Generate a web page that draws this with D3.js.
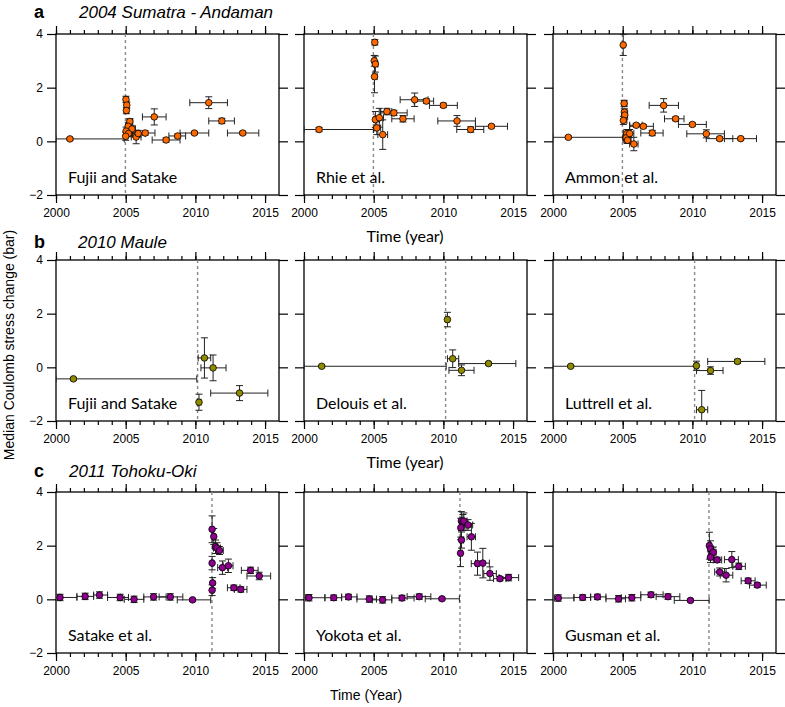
<!DOCTYPE html>
<html>
<head>
<meta charset="utf-8">
<script src="https://cdn.jsdelivr.net/npm/d3@7"></script>
<style>
  body { margin: 0; background: #fff; }
  text { font-family: "Liberation Sans", Arial, sans-serif; }
  .ref { font-family: Lato, "Open Sans", sans-serif; font-size: 16px; }
  .axis .domain { display: none; }
  .axis line { stroke: #000; stroke-width: 1.2; }
  .axis text { font-size: 12px; fill: #000; }
</style>
</head>
<body>
<div class="chart"></div>
<script>
// tick values
const majorYears = [2000, 2005, 2010, 2015];
const minorYears = d3.range(2000, 2016);
const stressTicks = [-2, 0, 2, 4];

// main shock times
const mainShocks = [2004.98, 2010.16, 2011.19];

// each row: [time, stress, timeLo, timeHi, stressErr]
const sumatraFujii = [
  [2001.0, 0.09, 2000.0, 2004.9, 0.05],
  [2005.02, 1.56, 2004.95, 2005.15, 0.12],
  [2005.08, 1.35, 2004.98, 2005.2, 0.12],
  [2005.05, 1.15, 2004.95, 2005.2, 0.12],
  [2005.3, 0.74, 2005.1, 2005.5, 0.1],
  [2005.18, 0.56, 2005.0, 2005.4, 0.15],
  [2005.45, 0.46, 2005.2, 2005.7, 0.12],
  [2005.03, 0.38, 2004.95, 2005.2, 0.15],
  [2005.2, 0.29, 2005.0, 2005.45, 0.12],
  [2005.0, 0.19, 2004.9, 2005.15, 0.15],
  [2005.75, 0.16, 2005.4, 2006.1, 0.25],
  [2005.9, 0.29, 2005.5, 2006.4, 0.12],
  [2006.4, 0.31, 2005.5, 2007.1, 0.08],
  [2007.05, 0.91, 2006.2, 2007.9, 0.3],
  [2007.9, 0.05, 2006.9, 2008.9, 0.08],
  [2008.73, 0.2, 2008.1, 2009.3, 0.07],
  [2009.93, 0.31, 2008.9, 2010.96, 0.06],
  [2010.96, 1.44, 2009.6, 2012.3, 0.22],
  [2011.9, 0.76, 2010.96, 2012.8, 0.1],
  [2013.4, 0.31, 2012.3, 2014.55, 0.06]
];

const sumatraRhie = [
  [2001.08, 0.44, 2000.0, 2004.99, 0.08],
  [2005.08, 3.69, 2005.0, 2005.15, 0.1],
  [2005.04, 3.0, 2004.95, 2005.2, 0.2],
  [2005.12, 2.88, 2005.0, 2005.3, 0.3],
  [2005.06, 2.41, 2004.95, 2005.25, 0.6],
  [2005.12, 0.81, 2005.0, 2005.4, 0.3],
  [2005.22, 0.5, 2005.05, 2005.5, 0.25],
  [2005.4, 0.88, 2005.1, 2005.7, 0.35],
  [2005.65, 0.25, 2005.3, 2006.0, 0.55],
  [2005.95, 1.11, 2005.5, 2006.3, 0.12],
  [2006.45, 1.06, 2005.5, 2007.4, 0.1],
  [2007.1, 0.84, 2006.3, 2007.9, 0.12],
  [2007.94, 1.55, 2006.9, 2008.9, 0.25],
  [2008.78, 1.5, 2007.9, 2009.3, 0.08],
  [2010.0, 1.34, 2009.0, 2011.0, 0.08],
  [2010.98, 0.76, 2009.6, 2012.3, 0.2],
  [2011.96, 0.44, 2010.96, 2012.9, 0.1],
  [2013.45, 0.56, 2012.3, 2014.6, 0.06]
];

const sumatraAmmon = [
  [2001.1, 0.15, 2000.0, 2005.06, 0.05],
  [2005.04, 3.59, 2004.95, 2005.15, 0.39],
  [2005.1, 1.41, 2004.95, 2005.3, 0.12],
  [2005.12, 1.09, 2004.98, 2005.3, 0.12],
  [2005.15, 0.98, 2004.98, 2005.35, 0.15],
  [2005.05, 0.78, 2004.95, 2005.3, 0.15],
  [2005.3, 0.29, 2005.05, 2005.6, 0.15],
  [2005.25, 0.13, 2005.0, 2005.5, 0.15],
  [2005.35, 0.04, 2005.1, 2005.6, 0.12],
  [2005.5, 0.29, 2005.2, 2005.8, 0.15],
  [2005.8, -0.1, 2005.5, 2006.1, 0.25],
  [2005.97, 0.6, 2005.5, 2006.4, 0.06],
  [2006.48, 0.56, 2005.5, 2007.2, 0.06],
  [2007.12, 0.31, 2006.3, 2007.9, 0.1],
  [2007.94, 1.34, 2006.9, 2009.0, 0.25],
  [2008.8, 0.84, 2008.0, 2009.4, 0.07],
  [2010.0, 0.63, 2009.0, 2011.0, 0.06],
  [2011.0, 0.28, 2009.6, 2012.3, 0.15],
  [2011.96, 0.1, 2011.0, 2012.9, 0.06],
  [2013.47, 0.1, 2012.3, 2014.6, 0.05]
];

const mauleFujii = [
  [2001.25, -0.43, 2000.0, 2010.1, 0.05],
  [2010.26, -1.3, 2010.15, 2010.4, 0.3],
  [2010.65, 0.35, 2010.2, 2011.1, 0.75],
  [2011.27, -0.02, 2010.4, 2012.2, 0.48],
  [2013.17, -0.96, 2011.1, 2015.2, 0.28]
];

const mauleDelouis = [
  [2001.27, 0.04, 2000.0, 2010.2, 0.03],
  [2010.29, 1.78, 2010.2, 2010.4, 0.27],
  [2010.67, 0.32, 2010.3, 2011.1, 0.33],
  [2011.3, -0.11, 2010.4, 2012.2, 0.2],
  [2013.24, 0.14, 2011.1, 2015.2, 0.05]
];

const mauleLuttrell = [
  [2001.27, 0.04, 2000.0, 2010.3, 0.03],
  [2010.29, 0.06, 2010.2, 2010.4, 0.17],
  [2011.3, -0.12, 2010.3, 2012.2, 0.14],
  [2013.24, 0.22, 2011.1, 2015.2, 0.08],
  [2010.67, -1.58, 2010.3, 2011.1, 0.72]
];

const tohokuSatake = [
  [2000.29, 0.07, 2000.1, 2001.5, 0.12],
  [2002.09, 0.11, 2001.5, 2002.7, 0.12],
  [2003.12, 0.16, 2002.7, 2003.7, 0.12],
  [2004.6, 0.07, 2003.7, 2005.2, 0.12],
  [2005.6, 0.0, 2004.9, 2006.3, 0.12],
  [2007.0, 0.09, 2006.3, 2007.9, 0.12],
  [2008.2, 0.09, 2007.4, 2009.1, 0.12],
  [2009.8, -0.02, 2008.7, 2011.1, 0.05],
  [2011.2, 2.61, 2011.15, 2011.3, 0.5],
  [2011.32, 2.34, 2011.2, 2011.45, 0.3],
  [2011.45, 1.96, 2011.25, 2011.6, 0.25],
  [2011.55, 1.91, 2011.3, 2011.8, 0.2],
  [2011.73, 1.82, 2011.45, 2012.0, 0.15],
  [2011.2, 1.35, 2011.15, 2011.3, 0.25],
  [2011.94, 1.18, 2011.6, 2012.3, 0.25],
  [2012.37, 1.25, 2012.0, 2012.7, 0.25],
  [2011.24, 0.61, 2011.15, 2011.3, 0.2],
  [2011.2, 0.34, 2011.15, 2011.3, 0.2],
  [2012.76, 0.43, 2012.3, 2013.2, 0.1],
  [2013.26, 0.37, 2012.8, 2013.7, 0.1],
  [2013.96, 1.08, 2013.3, 2014.5, 0.12],
  [2014.58, 0.87, 2013.7, 2015.4, 0.14]
];

const tohokuYokota = [
  [2000.36, 0.06, 2000.1, 2001.5, 0.12],
  [2002.13, 0.06, 2001.5, 2002.7, 0.1],
  [2003.19, 0.09, 2002.7, 2003.8, 0.1],
  [2004.68, 0.01, 2003.8, 2005.2, 0.12],
  [2005.64, -0.02, 2004.9, 2006.3, 0.12],
  [2007.03, 0.05, 2006.3, 2007.9, 0.1],
  [2008.27, 0.1, 2007.4, 2009.1, 0.1],
  [2009.9, 0.02, 2008.7, 2011.15, 0.05],
  [2011.29, 2.92, 2011.2, 2011.45, 0.35],
  [2011.4, 2.86, 2011.25, 2011.6, 0.3],
  [2011.47, 2.92, 2011.3, 2011.7, 0.3],
  [2011.25, 2.67, 2011.15, 2011.4, 0.35],
  [2011.77, 2.77, 2011.5, 2012.1, 0.2],
  [2011.3, 2.21, 2011.2, 2011.45, 0.3],
  [2012.01, 2.33, 2011.7, 2012.3, 0.5],
  [2011.23, 1.72, 2011.15, 2011.35, 0.5],
  [2012.45, 1.33, 2012.0, 2012.9, 0.43],
  [2012.83, 1.35, 2012.3, 2013.3, 0.55],
  [2013.34, 0.96, 2012.9, 2013.8, 0.25],
  [2014.06, 0.77, 2013.6, 2014.5, 0.08],
  [2014.68, 0.81, 2014.0, 2015.4, 0.12]
];

const tohokuGusman = [
  [2000.38, 0.05, 2000.1, 2001.5, 0.12],
  [2002.13, 0.07, 2001.5, 2002.7, 0.1],
  [2003.19, 0.09, 2002.7, 2003.8, 0.1],
  [2004.7, 0.02, 2003.8, 2005.2, 0.12],
  [2005.66, 0.06, 2004.9, 2006.3, 0.12],
  [2007.03, 0.17, 2006.3, 2007.9, 0.1],
  [2008.25, 0.1, 2007.4, 2009.1, 0.1],
  [2009.86, -0.04, 2008.7, 2011.2, 0.05],
  [2011.22, 2.0, 2011.15, 2011.35, 0.5],
  [2011.3, 1.88, 2011.2, 2011.5, 0.3],
  [2011.42, 1.72, 2011.25, 2011.6, 0.2],
  [2011.5, 1.75, 2011.3, 2011.7, 0.2],
  [2011.3, 1.57, 2011.15, 2011.5, 0.2],
  [2011.78, 1.47, 2011.5, 2012.1, 0.1],
  [2012.83, 1.48, 2012.3, 2013.3, 0.3],
  [2011.96, 1.02, 2011.6, 2012.3, 0.15],
  [2012.42, 0.9, 2012.0, 2012.9, 0.25],
  [2013.33, 1.23, 2012.9, 2013.8, 0.12],
  [2014.0, 0.69, 2013.5, 2014.5, 0.1],
  [2014.66, 0.53, 2014.1, 2015.3, 0.08]
];

const rows = [
  {letter: 'a', title: '2004 Sumatra - Andaman', titleX: 79, titleY: 18, xLabel: 'Time (year)', xLabelX: 405,
   color: '#ff6a00', shock: mainShocks[0],
   panels: [['Fujii and Satake', sumatraFujii], ['Rhie et al.', sumatraRhie], ['Ammon et al.', sumatraAmmon]]},
  {letter: 'b', title: '2010 Maule', titleX: 78, titleY: 248, xLabel: 'Time (year)', xLabelX: 405,
   color: '#8f8a00', shock: mainShocks[1],
   panels: [['Fujii and Satake', mauleFujii], ['Delouis et al.', mauleDelouis], ['Luttrell et al.', mauleLuttrell]]},
  {letter: 'c', title: '2011 Tohoku-Oki', titleX: 69, titleY: 477, xLabel: 'Time (Year)', xLabelX: 366,
   color: '#8e008e', shock: mainShocks[2],
   panels: [['Satake et al.', tohokuSatake], ['Yokota et al.', tohokuYokota], ['Gusman et al.', tohokuGusman]]}
];

// layout
const colX = [56, 304, 553];
const rowY = [34, 260, 492];
const panelW = 223;
const panelH = 161;

const svg = d3.select('.chart')
  .append('svg')
  .attr('width', 785)
  .attr('height', 707);

const x = d3.scaleLinear().domain([2000, 2016]).range([0, panelW]);
const y = d3.scaleLinear().domain([-2, 4]).range([panelH, 0]);

svg.append('defs').append('clipPath')
  .attr('id', 'clip')
  .append('rect')
  .attr('width', panelW)
  .attr('height', panelH);

rows.forEach((row, r) => {
  // row titles
  svg.append('text')
    .attr('x', 34)
    .attr('y', row.titleY)
    .attr('font-size', 18)
    .attr('font-weight', 'bold')
    .text(row.letter);

  svg.append('text')
    .attr('x', row.titleX)
    .attr('y', row.titleY)
    .attr('font-size', 17)
    .attr('font-style', 'italic')
    .text(row.title);

  row.panels.forEach(([name, data], c) => {
    const g = svg.append('g')
      .attr('transform', `translate(${colX[c]},${rowY[r]})`);

    // minor ticks
    g.append('g').attr('class', 'axis')
      .attr('transform', `translate(0,${panelH})`)
      .call(d3.axisBottom(x).tickValues(minorYears).tickSize(4).tickFormat(''));
    g.append('g').attr('class', 'axis')
      .call(d3.axisTop(x).tickValues(minorYears).tickSize(4).tickFormat(''));

    // major ticks
    g.append('g').attr('class', 'axis')
      .attr('transform', `translate(0,${panelH})`)
      .call(d3.axisBottom(x).tickValues(majorYears).tickSize(8).tickPadding(5).tickFormat(d3.format('d')));
    g.append('g').attr('class', 'axis')
      .call(d3.axisTop(x).tickValues(majorYears).tickSize(8).tickFormat(''));

    const yl = d3.axisLeft(y).tickValues(stressTicks).tickSize(9).tickPadding(4)
      .tickFormat(c > 0 ? '' : d3.format('d'));
    g.append('g').attr('class', 'axis').call(yl);
    g.append('g').attr('class', 'axis')
      .attr('transform', `translate(${panelW},0)`)
      .call(d3.axisRight(y).tickValues(stressTicks).tickSize(9).tickFormat(''));

    // frame
    g.append('rect')
      .attr('width', panelW)
      .attr('height', panelH)
      .attr('fill', 'none')
      .attr('stroke', '#000')
      .attr('stroke-width', 1.3);

    // main shock
    g.append('line')
      .attr('x1', x(row.shock)).attr('x2', x(row.shock))
      .attr('y1', 0).attr('y2', panelH)
      .attr('stroke', '#888')
      .attr('stroke-width', 1.4)
      .attr('stroke-dasharray', '3,3');

    g.append('text')
      .attr('class', 'ref')
      .attr('x', 12)
      .attr('y', panelH - 12)
      .text(name);

    const marks = g.append('g').attr('clip-path', 'url(#clip)');

    const bars = marks.selectAll('g.err')
      .data(data)
      .enter()
      .append('g')
      .attr('class', 'err')
      .attr('stroke', '#222')
      .attr('stroke-width', 1)
      .attr('fill', 'none');

    // horizontal error
    bars.append('path')
      .attr('d', d => {
        const x0 = x(d[2]), x1 = x(d[3]), yy = y(d[1]);
        return `M${x0},${yy}H${x1}M${x0},${yy - 3.5}V${yy + 3.5}M${x1},${yy - 3.5}V${yy + 3.5}`;
      });

    // vertical error
    bars.append('path')
      .attr('d', d => {
        const xx = x(d[0]), y0 = y(d[1] - d[4]), y1 = y(d[1] + d[4]);
        return `M${xx},${y0}V${y1}M${xx - 3.5},${y0}H${xx + 3.5}M${xx - 3.5},${y1}H${xx + 3.5}`;
      });

    marks.selectAll('circle')
      .data(data)
      .enter()
      .append('circle')
      .attr('cx', d => x(d[0]))
      .attr('cy', d => y(d[1]))
      .attr('r', 3.3)
      .attr('fill', row.color)
      .attr('stroke', '#000')
      .attr('stroke-width', 0.8);
  });

  // x axis label
  svg.append('text')
    .attr('class', r < 2 ? 'ref' : null)
    .attr('x', row.xLabelX)
    .attr('y', rowY[r] + panelH + 47)
    .attr('text-anchor', 'middle')
    .attr('font-size', r < 2 ? null : 14)
    .text(row.xLabel);
});

// y axis label
svg.append('text')
  .attr('transform', 'translate(14,345) rotate(-90)')
  .attr('text-anchor', 'middle')
  .attr('font-size', 14)
  .text('Median Coulomb stress change (bar)');
</script>
</body>
</html>
